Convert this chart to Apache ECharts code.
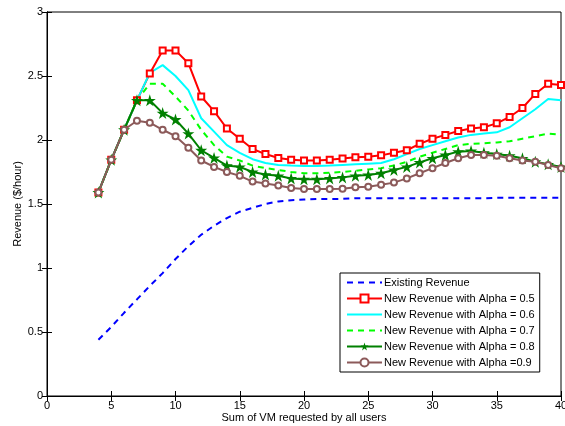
<!DOCTYPE html>
<html>
<head>
<meta charset="utf-8">
<script src="https://cdn.jsdelivr.net/npm/echarts@6/dist/echarts.min.js"></script>
<style>html,body{margin:0;padding:0;background:#fff;}#c{width:565px;height:426px;}</style>
</head>
<body>
<div id="c"></div>
<script>
const xValues = [4,5,6,7,8,9,10,11,12,13,14,15,16,17,18,19,20,21,22,23,24,25,26,27,28,29,30,31,32,33,34,35,36,37,38,39,40];
const existing = [0.44,0.54,0.65,0.755,0.86,0.96,1.07,1.17,1.26,1.33,1.39,1.44,1.47,1.50,1.52,1.53,1.535,1.54,1.54,1.54,1.545,1.545,1.545,1.545,1.545,1.545,1.545,1.545,1.545,1.545,1.545,1.548,1.548,1.548,1.548,1.548,1.548];
const alpha05 = [1.59,1.845,2.08,2.31,2.52,2.70,2.70,2.60,2.34,2.225,2.09,2.01,1.93,1.89,1.86,1.845,1.84,1.84,1.845,1.855,1.865,1.87,1.88,1.90,1.92,1.97,2.01,2.04,2.07,2.09,2.10,2.13,2.18,2.25,2.36,2.44,2.43];
const alpha06 = [1.59,1.845,2.08,2.31,2.525,2.585,2.50,2.39,2.17,2.065,1.96,1.90,1.85,1.82,1.805,1.80,1.797,1.797,1.80,1.805,1.81,1.815,1.82,1.85,1.89,1.93,1.96,1.99,2.02,2.04,2.05,2.06,2.10,2.17,2.24,2.32,2.31];
const alpha07 = [1.59,1.845,2.08,2.31,2.44,2.44,2.34,2.23,2.08,1.96,1.87,1.84,1.80,1.78,1.766,1.75,1.74,1.74,1.745,1.75,1.76,1.77,1.78,1.80,1.83,1.87,1.90,1.93,1.96,1.97,1.975,1.98,1.99,2.01,2.03,2.05,2.04];
const alpha08 = [1.59,1.845,2.08,2.31,2.31,2.21,2.16,2.05,1.92,1.86,1.80,1.79,1.75,1.73,1.72,1.70,1.693,1.693,1.70,1.708,1.72,1.727,1.74,1.766,1.79,1.825,1.857,1.883,1.909,1.914,1.90,1.89,1.877,1.857,1.83,1.81,1.79];
const alpha09 = [1.59,1.845,2.08,2.15,2.135,2.08,2.03,1.94,1.84,1.79,1.75,1.72,1.675,1.66,1.645,1.625,1.617,1.617,1.617,1.62,1.63,1.635,1.65,1.667,1.70,1.74,1.78,1.82,1.857,1.883,1.883,1.877,1.857,1.84,1.83,1.805,1.78];
const xTicks = [0,5,10,15,20,25,30,35,40];
const yTicks = [0,0.5,1,1.5,2,2.5,3];
const seriesNames = ['Existing Revenue','New Revenue with Alpha = 0.5','New Revenue with Alpha = 0.6','New Revenue with Alpha = 0.7','New Revenue with Alpha = 0.8','New Revenue with Alpha =0.9'];

const pair = arr => xValues.map((x,i)=>[x,arr[i]]);
const star = 'path://M50,0 L61.2,34.5 L97.6,34.5 L68.2,55.9 L79.4,90.5 L50,69.1 L20.6,90.5 L31.8,55.9 L2.4,34.5 L38.8,34.5 Z';
const font = 'Liberation Sans, Arial, Helvetica, sans-serif';

const chart = echarts.init(document.getElementById('c'), null, {renderer:'canvas'});
const axisCommon = {
  type:'value',
  axisLine:{show:true,lineStyle:{color:'#000',width:1}},
  axisTick:{show:true,inside:true,length:5,lineStyle:{color:'#000'}},
  splitLine:{show:false}
};
const hidden = {color:'rgba(0,0,0,0)',borderColor:'rgba(0,0,0,0)',opacity:0};
chart.setOption({
  animation:false,
  backgroundColor:'#fff',
  grid:{left:47,right:4,top:12,bottom:30,show:true,borderColor:'#000',borderWidth:1,
    containLabel:false,outerBoundsMode:'none'},
  xAxis:[
    Object.assign({}, axisCommon, {min:0,max:40,interval:5,position:'bottom',
      name:'Sum of VM requested by all users',nameLocation:'middle',nameGap:16,nameMoveOverlap:false,
      nameTextStyle:{color:'#000',fontSize:11,fontFamily:font},
      axisLabel:{color:'#000',fontSize:11,fontFamily:font,margin:4,
        formatter:v=>xTicks.includes(v)?String(v):''}}),
    Object.assign({}, axisCommon, {min:0,max:40,interval:5,position:'top',axisLabel:{show:false}})
  ],
  yAxis:[
    Object.assign({}, axisCommon, {min:0,max:3,interval:0.5,position:'left',
      name:'Revenue ($/hour)',nameLocation:'middle',nameGap:24,nameRotate:90,nameMoveOverlap:false,
      nameTextStyle:{color:'#000',fontSize:11,fontFamily:font},
      axisLabel:{color:'#000',fontSize:11,fontFamily:font,margin:4,
        formatter:v=>yTicks.includes(v)?String(v):''}}),
    Object.assign({}, axisCommon, {min:0,max:3,interval:0.5,position:'right',axisLabel:{show:false}})
  ],
  legend:{
    orient:'vertical',left:340,top:273,
    backgroundColor:'#fff',borderColor:'#000',borderWidth:1,
    padding:[4,5,4,6],itemGap:5,itemWidth:35,itemHeight:10,
    textStyle:{color:'#000',fontSize:11,fontFamily:font,padding:[0,0,0,-3]},
    data:[
      {name:seriesNames[0],itemStyle:hidden},
      {name:seriesNames[1]},
      {name:seriesNames[2],itemStyle:hidden},
      {name:seriesNames[3],itemStyle:hidden},
      {name:seriesNames[4]},
      {name:seriesNames[5]}
    ]
  },
  series:[
    {name:seriesNames[0],type:'line',data:pair(existing),symbol:'none',
      lineStyle:{color:'#0000ff',width:2,type:[6,5]},itemStyle:{color:'#0000ff'},z:2},
    {name:seriesNames[1],type:'line',data:pair(alpha05),symbol:'emptyRect',symbolSize:6,
      lineStyle:{color:'#ff0000',width:2},itemStyle:{color:'#ff0000',borderWidth:1.5},z:3},
    {name:seriesNames[2],type:'line',data:pair(alpha06),symbol:'none',
      lineStyle:{color:'#00ffff',width:2},itemStyle:{color:'#00ffff'},z:3},
    {name:seriesNames[3],type:'line',data:pair(alpha07),symbol:'none',
      lineStyle:{color:'#00ff00',width:2,type:[6,5]},itemStyle:{color:'#00ff00'},z:3},
    {name:seriesNames[4],type:'line',data:pair(alpha08),symbol:star,symbolSize:12,
      lineStyle:{color:'#008000',width:2},itemStyle:{color:'#008000'},z:4},
    {name:seriesNames[5],type:'line',data:pair(alpha09),symbol:'emptyCircle',symbolSize:6,
      lineStyle:{color:'#8c5a5a',width:2},itemStyle:{color:'#8c5a5a',borderWidth:1.5},z:5}
  ]
});
</script>
</body>
</html>
